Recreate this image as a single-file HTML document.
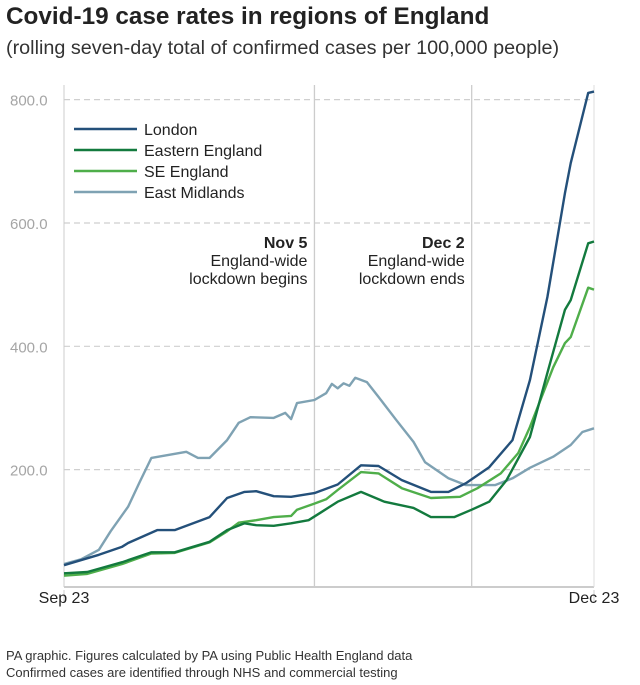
<!DOCTYPE html>
<html><head><meta charset="utf-8"><style>
body{margin:0;background:#fff;width:640px;height:685px;overflow:hidden;font-family:"Liberation Sans",sans-serif;}
svg{display:block}
</style></head><body>
<svg id="chart" width="640" height="685" xmlns="http://www.w3.org/2000/svg">
<text x="6" y="24" font-size="24.3" font-weight="bold" fill="#222">Covid-19 case rates in regions of England</text>
<text x="6" y="54" font-size="19.8" fill="#333">(rolling seven-day total of confirmed cases per 100,000 people)</text>
<g id="grid"></g>
<g id="annot"></g>
<g id="lines"></g>
<g id="legend"></g>
<text x="6" y="660" font-size="13" fill="#333">PA graphic. Figures calculated by PA using Public Health England data</text>
<text x="6" y="677" font-size="13" fill="#333">Confirmed cases are identified through NHS and commercial testing</text>
</svg>
<script>
const yTicks=[200,400,600,800];
const xLabels=["Sep 23","Dec 23"];
const xLabelDays=[0,91];
const eventDays=[43,70];
const eventTitles=["Nov 5","Dec 2"];
const eventLines1=["England-wide","England-wide"];
const eventLines2=["lockdown begins","lockdown ends"];
const seriesNames=["East Midlands","SE England","Eastern England","London"];
const legendOrder=["London","Eastern England","SE England","East Midlands"];
const emDays=[0,3,6,8,11,13,15,21,23,25,28,30,32,36,38,39,40,43,45,46,47,48,49,50,52,54,57,60,62,66,69,74,77,80,84,87,89,91];
const emVals=[47,55,70,100,140,180,219,229,219,219,248,276,285,284,292,282,308,313,324,339,332,340,336,349,342,318,281,245,212,186,175,175,186,203,221,240,261,267];
const seDays=[0,4,10,15,19,25,28,30,33,36,39,40,43,45,47,51,54,58,63,68,71,75,78,80,84,86,87,90,91];
const seVals=[28,31,47,64,65,82,100,114,118,123,125,135,145,152,167,196,194,170,154,156,170,194,227,269,366,405,415,495,492];
const eeDays=[0,4,10,15,19,25,28,31,33,36,39,42,44,47,51,55,60,63,67,70,73,76,80,83,86,87,90,91];
const eeVals=[32,34,50,66,66,83,102,113,110,109,113,118,130,148,164,148,138,123,123,135,148,183,253,357,459,475,567,570];
const ldDays=[0,6,10,11,16,19,25,28,31,33,36,39,43,47,51,54,58,63,66,69,73,77,80,83,86,87,90,91];
const ldVals=[45,62,75,81,102,102,123,154,164,165,157,156,162,176,207,206,183,164,164,178,204,248,345,480,648,697,811,813];
const colors={"London":"#24507a","Eastern England":"#137a3e","SE England":"#4fae4a","East Midlands":"#7fa2b3"};
const NS="http://www.w3.org/2000/svg";
const X0=64,X1=594,DMAX=91;
function xS(d){return X0+(X1-X0)*d/DMAX;}
function yS(v){return 593-0.6167*v;}
function mk(tag,attrs,parent){const e=document.createElementNS(NS,tag);for(const k in attrs)e.setAttribute(k,attrs[k]);parent.appendChild(e);return e;}
const grid=document.getElementById('grid');
yTicks.forEach(t=>{
  const l=mk('line',{x1:X0,x2:X1,y1:yS(t),y2:yS(t),stroke:'#cfcfcf','stroke-width':1.2,'stroke-dasharray':'6,4'},grid);
  
  
  const tx=mk('text',{x:10,y:yS(t)+6,'font-size':15,fill:'#a5a5a5'},grid);
  tx.textContent=t.toFixed(1);
  
  
});
const ax=mk('line',{x1:X0,x2:X1,y1:587,y2:587,stroke:'#bbb','stroke-width':1.5},grid);


const ay=mk('line',{x1:X0,x2:X0,y1:85,y2:587,stroke:'#ccc','stroke-width':1},grid);


xLabelDays.forEach((d,i)=>{
  const tk=mk('line',{x1:xS(d),x2:xS(d),y1:590,y2:602,stroke:'#ccc','stroke-width':1},grid);
  
  
  const t=mk('text',{x:xS(d),y:603,'font-size':16,fill:'#222','text-anchor':'middle'},grid);
  t.textContent=xLabels[i];
  
  
});
const rl=mk('line',{x1:X1,x2:X1,y1:85,y2:587,stroke:'#ddd','stroke-width':1},grid);


const an=document.getElementById('annot');
eventDays.forEach((d,i)=>{
  const l=mk('line',{x1:xS(d),x2:xS(d),y1:85,y2:587,stroke:'#ccc','stroke-width':1.3},an);
  
  
  const tx=xS(d)-7;
  const a=mk('text',{x:tx,y:248,'font-size':16,'font-weight':'bold',fill:'#222','text-anchor':'end'},an);
  a.textContent=eventTitles[i];
  
  
  const b=mk('text',{x:tx,y:266,'font-size':16,fill:'#222','text-anchor':'end'},an);
  b.textContent=eventLines1[i];
  
  
  const c=mk('text',{x:tx,y:284,'font-size':16,fill:'#222','text-anchor':'end'},an);
  c.textContent=eventLines2[i];
  
  
});
const lines=document.getElementById('lines');
const sd=[[emDays,emVals],[seDays,seVals],[eeDays,eeVals],[ldDays,ldVals]];
seriesNames.forEach((n,i)=>{
  const [ds,vs]=sd[i];
  const p=mk('polyline',{points:ds.map((d,j)=>xS(d).toFixed(1)+','+yS(vs[j]).toFixed(1)).join(' '),fill:'none',stroke:colors[n],'stroke-width':2.4,'stroke-linejoin':'round'},lines);
  
  
});
const lg=document.getElementById('legend');
legendOrder.forEach((n,i)=>{
  const y=129+i*21;
  const l=mk('line',{x1:74,x2:137,y1:y,y2:y,stroke:colors[n],'stroke-width':2.6},lg);
  
  
  const t=mk('text',{x:144,y:y+6,'font-size':16,fill:'#222'},lg);
  t.textContent=n;
  
  
});
</script>
</body></html>
